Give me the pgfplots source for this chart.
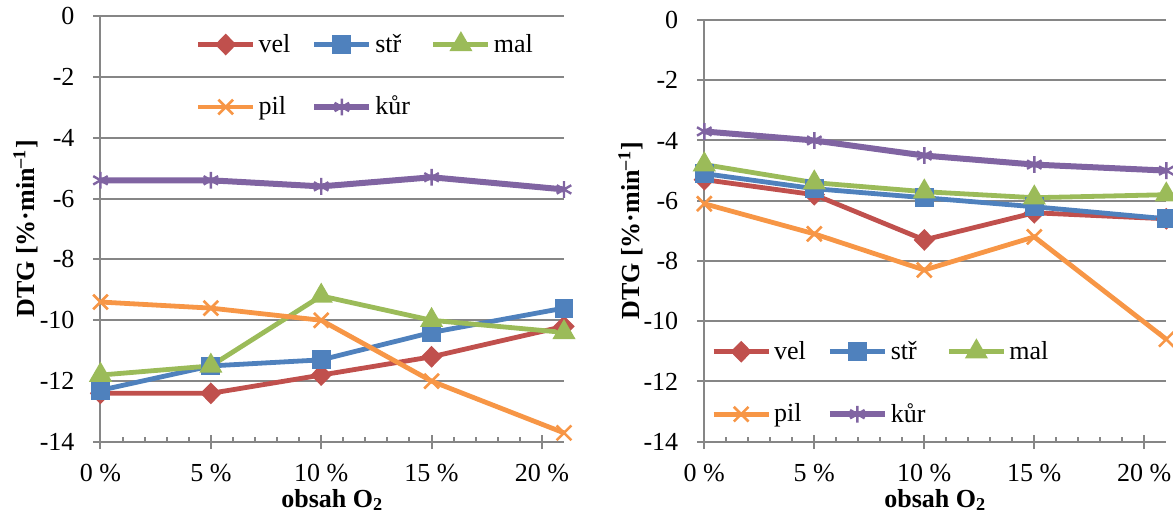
\documentclass[border=0pt]{standalone}
\usepackage{fontspec}
\setmainfont{Liberation Serif}
\usepackage{pgfplots}
\pgfplotsset{compat=1.18}
\definecolor{cvel}{RGB}{192,80,77}
\definecolor{cstr}{RGB}{79,129,189}
\definecolor{cmal}{RGB}{155,187,89}
\definecolor{cpil}{RGB}{247,150,70}
\definecolor{ckur}{RGB}{128,100,162}
\definecolor{gridc}{RGB}{134,134,134}
\newcommand{\fs}{\fontsize{13}{15}\selectfont}
\pgfplotsset{
  panel/.style={
    scale only axis, clip=false,
    xmin=0, xmax=21, ymin=-14, ymax=0,
    axis x line*=bottom, axis y line*=left,
    xtick={0,5,10,15,20}, xticklabels={0 \%,5 \%,10 \%,15 \%,20 \%},
    minor x tick num=4,
    ytick={-14,-12,-10,-8,-6,-4,-2,0},
    yticklabels={-14,-12,-10,-8,-6,-4,-2,0},
    ymajorgrids, grid style={gridc, line width=1pt},
    axis line style={gridc, line width=1pt, -},
    tick style={gridc, line width=1pt},
    tick align=center,
    major tick length=7pt, minor tick length=2.5pt,
    minor x tick style={yshift=1.25pt},
    every tick label/.append style={font=\fs, text=black},
    xticklabel shift=4pt, yticklabel shift=6pt,
    xlabel={\textbf{obsah O\textsubscript{2}}},
    ylabel={\textbf{DTG [\%·min\textsuperscript{–1}]}},
    label style={font=\fs},
    legend columns=3,
    legend cell align=left,
    legend style={draw=none, fill=none, font=\fs, inner sep=0pt,
      nodes={inner sep=1.5pt},
      /tikz/every even column/.append style={column sep=9pt},
      /tikz/row sep=17.5pt},
    legend image code/.code={\draw[mark repeat=2,mark phase=2] plot coordinates {(0pt,0pt) (13.75pt,0pt) (27.5pt,0pt)};},
    sv/.style={cvel, line width=2.4pt, mark=diamond*, mark options={mark size=3.75pt, xscale=1.3, draw=none, fill=cvel}},
    ss/.style={cstr, line width=2.4pt, mark=square*, mark options={mark size=3.5pt, draw=none, fill=cstr}},
    sm/.style={cmal, line width=2.4pt, mark=triangle*, mark options={mark size=4.3pt, draw=none, fill=cmal}},
    sp/.style={cpil, line width=2.4pt, mark=x, mark options={mark size=5.2pt, line width=1.3pt}},
    sk/.style={ckur, line width=3pt, mark=asterisk, mark options={mark size=4.2pt, line width=1.2pt}},
  }
}
\begin{document}
\begin{tikzpicture}
\useasboundingbox (0,0) rectangle (586.5pt,257pt);
\begin{axis}[panel, at={(50.25pt,36pt)}, anchor=south west, width=231.75pt, height=213pt,
  xlabel style={at={(axis description cs:0.5,-0.136)}, anchor=center},
  ylabel style={at={(axis description cs:-0.162,0.5)}, anchor=center},
  legend style={at={(axis cs:4.3,-0.48)}, anchor=north west}]
\addplot[sv] coordinates {(0,-12.4) (5,-12.4) (10,-11.8) (15,-11.2) (21,-10.2)};
\addplot[ss] coordinates {(0,-12.3) (5,-11.5) (10,-11.3) (15,-10.4) (21,-9.6)};
\addplot[sm] coordinates {(0,-11.8) (5,-11.5) (10,-9.2) (15,-10.0) (21,-10.4)};
\addplot[sp] coordinates {(0,-9.4) (5,-9.6) (10,-10.0) (15,-12.0) (21,-13.7)};
\addplot[sk] coordinates {(0,-5.4) (5,-5.4) (10,-5.6) (15,-5.3) (21,-5.7)};
\legend{vel,stř,mal,pil,kůr}
\end{axis}
\begin{axis}[panel, at={(352.15pt,36.15pt)}, anchor=south west, width=231pt, height=210.85pt,
  xlabel style={at={(axis description cs:0.5,-0.138)}, anchor=center},
  ylabel style={at={(axis description cs:-0.160,0.5)}, anchor=center},
  legend style={at={(axis cs:0.3,-10.55)}, anchor=north west}]
\addplot[sv] coordinates {(0,-5.3) (5,-5.8) (10,-7.3) (15,-6.4) (21,-6.6)};
\addplot[ss] coordinates {(0,-5.1) (5,-5.6) (10,-5.9) (15,-6.2) (21,-6.6)};
\addplot[sm] coordinates {(0,-4.8) (5,-5.4) (10,-5.7) (15,-5.9) (21,-5.8)};
\addplot[sp] coordinates {(0,-6.1) (5,-7.1) (10,-8.3) (15,-7.2) (21,-10.6)};
\addplot[sk] coordinates {(0,-3.7) (5,-4.0) (10,-4.5) (15,-4.8) (21,-5.0)};
\legend{vel,stř,mal,pil,kůr}
\end{axis}
\end{tikzpicture}
\end{document}
